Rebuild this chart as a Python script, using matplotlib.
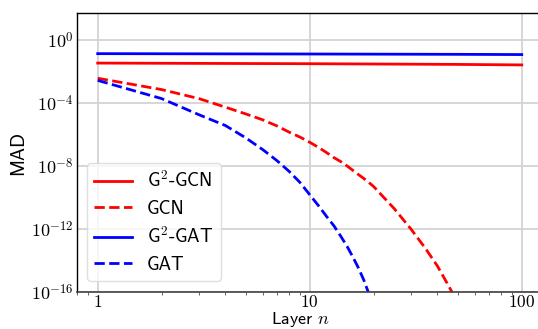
import matplotlib
matplotlib.use("Agg")
import matplotlib.pyplot as plt
from matplotlib.ticker import LogLocator, NullFormatter

plt.rcParams["font.family"] = ["cmss10", "DejaVu Sans"]
plt.rcParams["mathtext.fontset"] = "cm"
plt.rcParams["axes.unicode_minus"] = True

# Mean average distance of node representations per layer
layers_g2 = [1, 10, 50, 100]
mad_g2_gcn = [0.034, 0.031, 0.028, 0.026]
mad_g2_gat = [0.135, 0.128, 0.122, 0.118]

layers = [1, 2, 3, 4, 5, 6, 7, 8, 9, 10, 11, 12, 13, 14, 15, 16, 17, 18,
          19, 20, 25, 30, 35, 40, 45, 50]
mad_gcn = [3.7e-3, 7.1e-4, 1.9e-4, 5.4e-5, 2.0e-5, 8.5e-6, 3.5e-6, 1.4e-6,
           6.8e-7, 3.2e-7, 1.5e-7, 7.1e-8, 3.4e-8, 1.9e-8, 1.0e-8, 5.2e-9,
           2.8e-9, 1.6e-9, 9.0e-10, 5.0e-10, 2.0e-11, 1.0e-12, 6.3e-14,
           4.5e-15, 2.7e-16, 2.0e-17]
mad_gat = [2.7e-3, 1.9e-4, 1.8e-5, 3.7e-6, 6.0e-7, 1.1e-7, 2.2e-8, 4.5e-9,
           8.9e-10, 1.5e-10, 3.0e-11, 6.3e-12, 1.6e-12, 3.5e-13, 7.9e-14,
           1.6e-14, 3.2e-15, 5.6e-16, 7.9e-17, 1.6e-17, 1e-20, 1e-22, 1e-24,
           1e-26, 1e-28, 1e-30]

x_ticks = [1, 10, 100]
x_tick_labels = ["$1$", "$10$", "$100$"]
y_ticks = [1e0, 1e-4, 1e-8, 1e-12, 1e-16]
y_tick_labels = [r"$10^{0}$", r"$10^{-4}$", r"$10^{-8}$", r"$10^{-12}$",
                 r"$10^{-16}$"]

fig = plt.figure(figsize=(5.38, 3.29), dpi=100)
ax = fig.add_axes([0.1422, 0.1125, 0.867, 0.847])

ax.plot(layers_g2, mad_g2_gcn, color="red", lw=2, label=r"G$^2$-GCN")
ax.plot(layers, mad_gcn, color="red", lw=2, ls="--", label="GCN")
ax.plot(layers_g2, mad_g2_gat, color="blue", lw=2, label=r"G$^2$-GAT")
ax.plot(layers, mad_gat, color="blue", lw=2, ls="--", label="GAT")

ax.set_xscale("log")
ax.set_yscale("log")
ax.set_xlim(10 ** -0.1, 10 ** 2.1)
ax.set_ylim(1e-16, 10 ** 1.69)
ax.set_yticks(y_ticks)
ax.set_yticklabels(y_tick_labels)
ax.yaxis.set_minor_locator(LogLocator(base=10, subs=[], numticks=1))
ax.yaxis.set_minor_formatter(NullFormatter())
ax.set_xticks(x_ticks)
ax.set_xticklabels(x_tick_labels)
ax.xaxis.set_minor_locator(LogLocator(base=10, subs=range(2, 10), numticks=20))
ax.xaxis.set_minor_formatter(NullFormatter())

ax.tick_params(axis="y", which="both", length=0, labelsize=13, pad=2)
ax.tick_params(axis="x", which="major", length=0, labelsize=12.5, pad=1.5)
ax.tick_params(axis="x", which="minor", length=2, width=0.6, color="0.3")

ax.grid(True, which="major", color="#d0d0d0", lw=1.2)
ax.set_axisbelow(True)
for side in ["left", "top", "right"]:
    ax.spines[side].set_color("black")
    ax.spines[side].set_linewidth(1.0)
ax.spines["bottom"].set_color("0.25")
ax.spines["bottom"].set_linewidth(1.2)

ax.set_xlabel(r"Layer $n$", fontsize=13, labelpad=0)
ax.xaxis.label.set_x(0.481)
ax.set_ylabel("MAD", fontsize=14, labelpad=3)

ax.legend(loc="lower left", fontsize=13.5, framealpha=0.8, edgecolor="#d8d8d8",
          handlelength=2.0, borderpad=0.4, labelspacing=0.45,
          borderaxespad=0, bbox_to_anchor=(0.0225, 0.039))

fig.savefig("out.png", dpi=100)
